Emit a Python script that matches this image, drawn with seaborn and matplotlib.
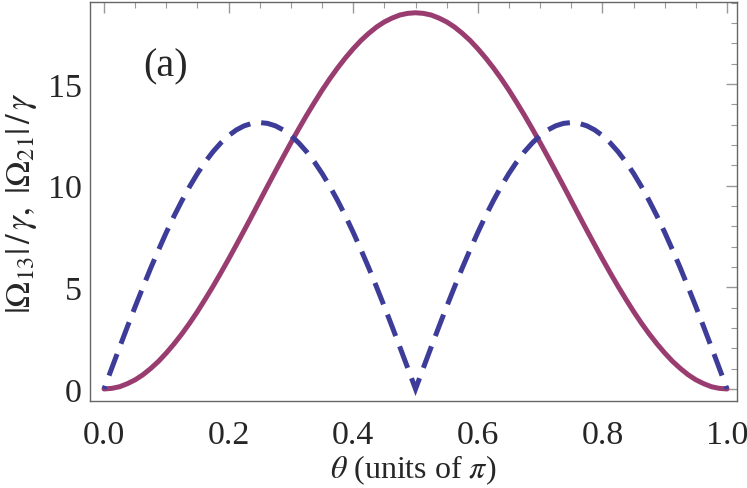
import numpy as np
import pandas as pd
import matplotlib
matplotlib.use("Agg")
import matplotlib.pyplot as plt
import seaborn as sns
from matplotlib.ticker import MultipleLocator

# ----------------------------
# Data
# ----------------------------
theta = np.linspace(0.0, 1.0, 81)

omega13 = [0.00, 0.03, 0.11, 0.26, 0.45, 0.70, 1.01, 1.36, 1.77, 2.22,
           2.71, 3.24, 3.81, 4.42, 5.05, 5.71, 6.39, 7.09, 7.80, 8.52,
           9.25, 9.98, 10.70, 11.41, 12.11, 12.79, 13.45, 14.08, 14.69, 15.26,
           15.79, 16.28, 16.73, 17.14, 17.49, 17.80, 18.05, 18.24, 18.39, 18.47,
           18.50, 18.47, 18.39, 18.24, 18.05, 17.80, 17.49, 17.14, 16.73, 16.28,
           15.79, 15.26, 14.69, 14.08, 13.45, 12.79, 12.11, 11.41, 10.70, 9.98,
           9.25, 8.52, 7.80, 7.09, 6.39, 5.71, 5.05, 4.42, 3.81, 3.24,
           2.71, 2.22, 1.77, 1.36, 1.01, 0.70, 0.45, 0.26, 0.11, 0.03,
           0.00]

omega21 = [0.00, 1.03, 2.05, 3.06, 4.05, 5.01, 5.95, 6.84, 7.70, 8.51,
           9.26, 9.96, 10.60, 11.17, 11.67, 12.10, 12.46, 12.74, 12.94, 13.06,
           13.10, 13.06, 12.94, 12.74, 12.46, 12.10, 11.67, 11.17, 10.60, 9.96,
           9.26, 8.51, 7.70, 6.84, 5.95, 5.01, 4.05, 3.06, 2.05, 1.03,
           0.00, 1.03, 2.05, 3.06, 4.05, 5.01, 5.95, 6.84, 7.70, 8.51,
           9.26, 9.96, 10.60, 11.17, 11.67, 12.10, 12.46, 12.74, 12.94, 13.06,
           13.10, 13.06, 12.94, 12.74, 12.46, 12.10, 11.67, 11.17, 10.60, 9.96,
           9.26, 8.51, 7.70, 6.84, 5.95, 5.01, 4.05, 3.06, 2.05, 1.03,
           0.00]

x_ticks = [0.0, 0.2, 0.4, 0.6, 0.8, 1.0]
x_tick_labels = ["0.0", "0.2", "0.4", "0.6", "0.8", "1.0"]

df = pd.DataFrame({"theta": theta, "omega13": omega13, "omega21": omega21})

# ----------------------------
# Style
# ----------------------------
sns.set_style("white")
plt.rcParams["font.family"] = ["Liberation Serif", "DejaVu Serif"]
plt.rcParams["mathtext.fontset"] = "stix"

fig = plt.figure(figsize=(7.47, 4.89), dpi=100)
ax = fig.add_axes([0.1205, 0.178, 0.8661, 0.8159])

solid_color = "#993D71"
dash_color = "#3D3D99"
lw = 3.6
dash_on, dash_off = 4.6, 2.2

sns.lineplot(x="theta", y="omega13", data=df, ax=ax, color=solid_color,
             linewidth=lw, solid_capstyle="round")
sns.lineplot(x="theta", y="omega21", data=df, ax=ax, color=dash_color,
             linewidth=lw)

ax.set_xlim(-0.0225, 1.016)
ax.set_ylim(-0.59, 19.03)

# shift the dash phase so that a dash sits on the cusp at theta = 0.5
dash_line = ax.lines[-1]
pts = ax.transData.transform(np.column_stack([df["theta"], df["omega21"]]))
seg = np.hypot(*np.diff(pts, axis=0).T) * 72.0 / fig.dpi
cusp_len = seg[:40].sum()
period = (dash_on + dash_off) * lw
offset = (dash_on * lw / 2.0 - cusp_len) % period
dash_line.set_linestyle((offset / lw, (dash_on, dash_off)))
dash_line.set_dash_capstyle("butt")
dash_line.set_dash_joinstyle("miter")

ax.xaxis.set_minor_locator(MultipleLocator(0.05))
ax.yaxis.set_major_locator(MultipleLocator(5))
ax.yaxis.set_minor_locator(MultipleLocator(1))
ax.set_xticks(x_ticks)
ax.set_xticklabels(x_tick_labels)

ax.tick_params(which="both", direction="in", top=True, right=True,
               color="#999999", labelsize=24.5)
ax.tick_params(axis="x", pad=13)
ax.tick_params(axis="y", pad=6)
ax.tick_params(which="major", length=8, width=1.0)
ax.tick_params(which="minor", length=4, width=0.8)

for s in ax.spines.values():
    s.set_color("#666666")
    s.set_linewidth(1.0)

# axis labels, placed by their baselines
ax.set_xlabel(r"$\theta$ (units of $\pi$)", fontsize=23, va="baseline")
ax.set_ylabel(r"$|\Omega_{13}|\,/\,\gamma,\ |\Omega_{21}|\,/\,\gamma$",
              fontsize=25, va="baseline")
ax.xaxis.set_label_coords(0.5, -0.19)
ax.yaxis.set_label_coords(-0.093, 0.5)

ax.text(0.0626, 15.9, "(a)", fontsize=29, ha="left", va="center")

fig.savefig("out.png", dpi=100)
